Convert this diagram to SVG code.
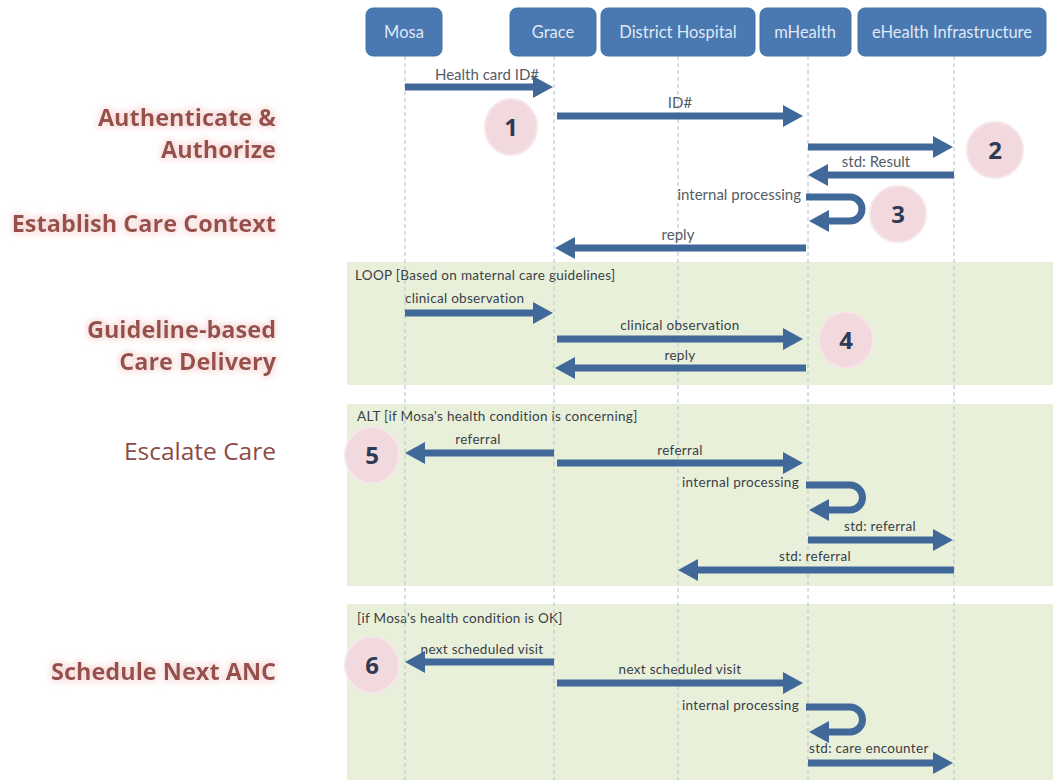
<svg xmlns="http://www.w3.org/2000/svg" width="1053" height="780" viewBox="0 0 1053 780">
<style>
.node rect{fill:#4a78b0;stroke:#4372a8;stroke-width:1}
.node text{font-family:Lato,"Open Sans","Liberation Sans",sans-serif;font-size:16.5px;fill:#dfe8f4;text-anchor:middle}
.life{stroke:#b3c0cf;stroke-width:1;stroke-dasharray:4 3;fill:none}
.frame{fill:#e9f0da}
.msg{stroke:#40699a;stroke-width:7;fill:none;marker-end:url(#ah)}
.lbl{font-family:Lato,"Open Sans","Liberation Sans",sans-serif;font-size:15px;fill:#555c66}
.sm{font-family:Lato,"Open Sans","Liberation Sans",sans-serif;font-size:13.5px;letter-spacing:0.3px;fill:#3a4048}
.sec{font-family:"Open Sans",Lato,"Liberation Sans",sans-serif;font-size:23.5px;font-weight:bold;fill:#964f4a;text-anchor:end;filter:url(#glow)}
.sec2{font-family:"Open Sans",Lato,"Liberation Sans",sans-serif;font-size:24.5px;fill:#8c4b46;text-anchor:end}
.badge ellipse{fill:#f1d9de;stroke:#f6e6e9;stroke-width:2}
.badge text{font-family:"Open Sans",Lato,"Liberation Sans",sans-serif;font-size:24px;font-weight:bold;fill:#2f3a55;text-anchor:middle}
</style>
<defs>
<marker id="ah" viewBox="0 -11 20 22" refX="2" refY="0" markerWidth="20" markerHeight="22" markerUnits="userSpaceOnUse" orient="auto">
<path d="M0,-11 L20,0 L0,11 z" fill="#40699a"/>
</marker>
<filter id="glow" x="-10%" y="-30%" width="120%" height="160%">
<feMorphology in="SourceAlpha" operator="dilate" radius="2" result="d"/>
<feGaussianBlur in="d" stdDeviation="3" result="b"/>
<feFlood flood-color="#f8e0df" result="c"/>
<feComposite in="c" in2="b" operator="in" result="g"/>
<feMerge><feMergeNode in="g"/><feMergeNode in="SourceGraphic"/></feMerge>
</filter>
</defs>
<rect width="1053" height="780" fill="#ffffff"/>
<g id="frames">
<rect class="frame" x="347" y="262" width="706" height="123"/>
<rect class="frame" x="347" y="404" width="706" height="182"/>
<rect class="frame" x="347" y="604" width="706" height="176"/>
<text class="sm" x="355" y="280">LOOP  [Based on maternal care guidelines]</text>
<text class="sm" x="357" y="421">ALT  [if Mosa's health condition is concerning]</text>
<text class="sm" x="357" y="623">[if Mosa's health condition is OK]</text>
</g>
<g id="lifelines">
<line class="life" x1="405" y1="56" x2="405" y2="780"/>
<line class="life" x1="554" y1="56" x2="554" y2="780"/>
<line class="life" x1="678" y1="56" x2="678" y2="780"/>
<line class="life" x1="808" y1="56" x2="808" y2="780"/>
<line class="life" x1="954" y1="56" x2="954" y2="780"/>
</g>
<g id="node-mosa" class="node"><rect x="366" y="8" width="76" height="48" rx="7"/><text x="404" y="38">Mosa</text></g>
<g id="node-grace" class="node"><rect x="510" y="8" width="86" height="48" rx="7"/><text x="553" y="38">Grace</text></g>
<g id="node-district" class="node"><rect x="601" y="8" width="154" height="48" rx="7"/><text x="678" y="38">District Hospital</text></g>
<g id="node-mhealth" class="node"><rect x="760" y="8" width="91" height="48" rx="7"/><text x="805" y="38">mHealth</text></g>
<g id="node-ehealth" class="node"><rect x="858" y="8" width="188" height="48" rx="7"/><text x="952" y="38">eHealth Infrastructure</text></g>
<g id="connectors">
<line class="msg" x1="405" y1="87" x2="535" y2="87"/>
<line class="msg" x1="557" y1="116" x2="785" y2="116"/>
<line class="msg" x1="808" y1="147" x2="935" y2="147"/>
<line class="msg" x1="954" y1="175" x2="826" y2="175"/>
<path class="msg" d="M806,197 H850 A12,12 0 0 1 850,221 H827"/>
<line class="msg" x1="806" y1="248" x2="573" y2="248"/>
<line class="msg" x1="405" y1="313" x2="535" y2="313"/>
<line class="msg" x1="557" y1="339" x2="785" y2="339"/>
<line class="msg" x1="806" y1="368" x2="573" y2="368"/>
<line class="msg" x1="554" y1="453" x2="423" y2="453"/>
<line class="msg" x1="557" y1="463" x2="785" y2="463"/>
<path class="msg" d="M806,485 H850 A12.5,12.5 0 0 1 850,510 H827"/>
<line class="msg" x1="808" y1="540" x2="935" y2="540"/>
<line class="msg" x1="954" y1="570" x2="696" y2="570"/>
<line class="msg" x1="554" y1="662" x2="423" y2="662"/>
<line class="msg" x1="557" y1="683" x2="785" y2="683"/>
<path class="msg" d="M806,707 H850 A12.5,12.5 0 0 1 850,732 H827"/>
<line class="msg" x1="808" y1="763" x2="935" y2="763"/>
</g>
<g id="message-labels">
<text class="lbl" x="487" y="80" text-anchor="middle">Health card ID#</text>
<text class="lbl" x="680" y="108" text-anchor="middle">ID#</text>
<text class="lbl" x="876" y="167" text-anchor="middle">std: Result</text>
<text class="lbl" x="801" y="200" text-anchor="end">internal processing</text>
<text class="lbl" x="678" y="240" text-anchor="middle">reply</text>
<text class="sm" x="405" y="303">clinical observation</text>
<text class="sm" x="680" y="330" text-anchor="middle">clinical observation</text>
<text class="sm" x="680" y="360" text-anchor="middle">reply</text>
<text class="sm" x="478" y="444" text-anchor="middle">referral</text>
<text class="sm" x="680" y="455" text-anchor="middle">referral</text>
<text class="sm" x="799" y="487" text-anchor="end">internal processing</text>
<text class="sm" x="880" y="531" text-anchor="middle">std: referral</text>
<text class="sm" x="815" y="561" text-anchor="middle">std: referral</text>
<text class="sm" x="482" y="654" text-anchor="middle">next scheduled visit</text>
<text class="sm" x="680" y="674" text-anchor="middle">next scheduled visit</text>
<text class="sm" x="799" y="710" text-anchor="end">internal processing</text>
<text class="sm" x="809" y="753">std: care encounter</text>
</g>
<g id="badges">
<g id="badge-1" class="badge"><ellipse cx="511" cy="127" rx="26" ry="28"/><text x="511" y="136">1</text></g>
<g id="badge-2" class="badge"><ellipse cx="995" cy="150" rx="28" ry="28"/><text x="995" y="159">2</text></g>
<g id="badge-3" class="badge"><ellipse cx="898" cy="214" rx="28" ry="28"/><text x="898" y="223">3</text></g>
<g id="badge-4" class="badge"><ellipse cx="846" cy="340" rx="27" ry="28"/><text x="846" y="349">4</text></g>
<g id="badge-5" class="badge"><ellipse cx="372" cy="455" rx="27" ry="28"/><text x="372" y="464">5</text></g>
<g id="badge-6" class="badge"><ellipse cx="372" cy="665" rx="27" ry="28"/><text x="372" y="674">6</text></g>
</g>
<g id="section-labels">
<text class="sec" x="276" y="126">Authenticate &amp;</text>
<text class="sec" x="276" y="158">Authorize</text>
<text class="sec" x="276" y="232">Establish Care Context</text>
<text class="sec" x="276" y="338">Guideline-based</text>
<text class="sec" x="276" y="370">Care Delivery</text>
<text class="sec2" x="276" y="460">Escalate Care</text>
<text class="sec" x="276" y="680">Schedule Next ANC</text>
</g>
</svg>
